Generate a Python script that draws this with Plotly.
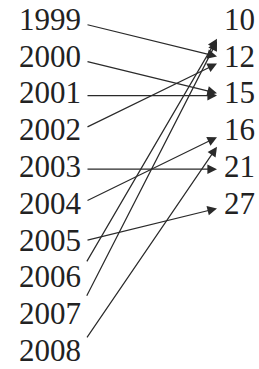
import plotly.graph_objects as go

# Data: mapping diagram (year -> value)
years = ["1999", "2000", "2001", "2002", "2003", "2004", "2005", "2006", "2007", "2008"]
values = ["10", "12", "15", "16", "21", "27"]
mapped_to = ["12", "15", "15", "12", "21", "16", "27", "10", "10", "16"]

W, H = 259, 369
ROW0_PX, ROW_STEP_PX = 22, 36.8
LEFT_TEXT_X, RIGHT_TEXT_X = 81, 224
ARROW_X0, ARROW_X1 = 86, 217
FONT = dict(family="Liberation Serif", size=31, color="#222222")
LINE_COLOR = "#2a2a2a"

y_top = -ROW0_PX / ROW_STEP_PX
y_bot = (H - ROW0_PX) / ROW_STEP_PX

fig = go.Figure()
fig.add_trace(go.Scatter(
    x=[LEFT_TEXT_X] * len(years), y=list(range(len(years))), text=years,
    mode="text", textposition="middle left", textfont=FONT, hoverinfo="skip"))
fig.add_trace(go.Scatter(
    x=[RIGHT_TEXT_X] * len(values), y=list(range(len(values))), text=values,
    mode="text", textposition="middle right", textfont=FONT, hoverinfo="skip"))

annotations = []
for i, target in enumerate(mapped_to):
    j = values.index(target)
    dy = j - i
    shift = 0.065 * abs(dy)
    sgn = 1 if dy > 0 else -1
    y0 = i + sgn * shift
    y1 = j - sgn * shift
    annotations.append(dict(
        x=ARROW_X1, y=y1, ax=ARROW_X0, ay=y0, xref="x", yref="y", axref="x", ayref="y",
        text="", showarrow=True, arrowhead=2, arrowsize=1.6, arrowwidth=1.2,
        arrowcolor=LINE_COLOR))

fig.update_layout(
    width=W, height=H, margin=dict(l=0, r=0, t=0, b=0),
    paper_bgcolor="white", plot_bgcolor="white", showlegend=False,
    xaxis=dict(range=[0, W], visible=False, fixedrange=True),
    yaxis=dict(range=[y_bot, y_top], visible=False, fixedrange=True),
    annotations=annotations)

fig.write_html("out.html", config={"displayModeBar": False, "staticPlot": True},
               post_script="document.body.style.margin='0';")
